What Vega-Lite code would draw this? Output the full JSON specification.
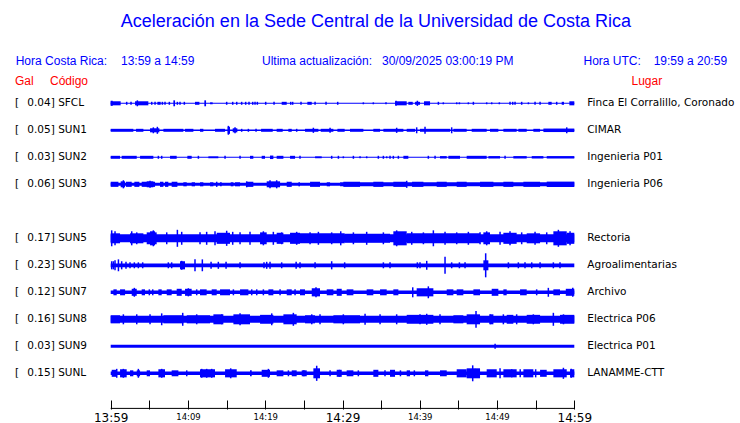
{
  "$schema": "https://vega.github.io/schema/vega-lite/v6.json",
  "width": 740,
  "height": 409,
  "padding": 0,
  "background": "white",
  "config": {"view": {"stroke": null}},
  "datasets": {
    "one": [{"k": 1}],
    "stations": [
      {"s":"SFCL","r":0,"lab":"0.04] SFCL","place":"Finca El Corralillo, Coronado"},
      {"s":"SUN1","r":1,"lab":"0.05] SUN1","place":"CIMAR"},
      {"s":"SUN2","r":2,"lab":"0.03] SUN2","place":"Ingenieria P01"},
      {"s":"SUN3","r":3,"lab":"0.06] SUN3","place":"Ingenieria P06"},
      {"s":"SUN5","r":5,"lab":"0.17] SUN5","place":"Rectoria"},
      {"s":"SUN6","r":6,"lab":"0.23] SUN6","place":"Agroalimentarias"},
      {"s":"SUN7","r":7,"lab":"0.12] SUN7","place":"Archivo"},
      {"s":"SUN8","r":8,"lab":"0.16] SUN8","place":"Electrica P06"},
      {"s":"SUN9","r":9,"lab":"0.03] SUN9","place":"Electrica P01"},
      {"s":"SUNL","r":10,"lab":"0.15] SUNL","place":"LANAMME-CTT"}
    ],
    "seg": [
      {"s":"SFCL","t":0,"u":60,"a":0.04},{"s":"SFCL","t":0,"u":1.29,"a":0.15},{"s":"SFCL","t":0,"u":0.26,"a":0.19},{"s":"SFCL","t":3.15,"u":4.87,"a":0.15},{"s":"SFCL","t":6.04,"u":6.47,"a":0.11},{"s":"SFCL","t":8.11,"u":8.33,"a":0.22},{"s":"SFCL","t":10.91,"u":11.48,"a":0.11},{"s":"SFCL","t":12.12,"u":12.34,"a":0.22},{"s":"SFCL","t":12.86,"u":13.2,"a":0.07},{"s":"SFCL","t":22.13,"u":22.78,"a":0.11},{"s":"SFCL","t":25.45,"u":26.02,"a":0.11},{"s":"SFCL","t":36.8,"u":38.31,"a":0.15},{"s":"SFCL","t":38.52,"u":39.09,"a":0.11},{"s":"SFCL","t":39.39,"u":40.03,"a":0.11},{"s":"SFCL","t":40.55,"u":41.33,"a":0.15},{"s":"SFCL","t":56.64,"u":57.07,"a":0.11},{"s":"SFCL","t":58.37,"u":58.67,"a":0.11},{"s":"SFCL","t":59.36,"u":60,"a":0.15},
      {"s":"SUN1","t":0,"u":60,"a":0.06},{"s":"SUN1","t":0,"u":2.93,"a":0.11},{"s":"SUN1","t":3.28,"u":4.23,"a":0.11},{"s":"SUN1","t":5.09,"u":6.3,"a":0.15},{"s":"SUN1","t":6.82,"u":9.4,"a":0.11},{"s":"SUN1","t":9.62,"u":10.7,"a":0.11},{"s":"SUN1","t":11.56,"u":11.99,"a":0.11},{"s":"SUN1","t":13.5,"u":14.8,"a":0.11},{"s":"SUN1","t":15.14,"u":15.44,"a":0.26},{"s":"SUN1","t":15.79,"u":16.39,"a":0.15},{"s":"SUN1","t":19.46,"u":20.97,"a":0.11},{"s":"SUN1","t":21.48,"u":22.26,"a":0.11},{"s":"SUN1","t":22.99,"u":23.43,"a":0.11},{"s":"SUN1","t":25.15,"u":26.88,"a":0.11},{"s":"SUN1","t":27.18,"u":28.82,"a":0.11},{"s":"SUN1","t":29.34,"u":30.28,"a":0.11},{"s":"SUN1","t":30.97,"u":32.7,"a":0.11},{"s":"SUN1","t":33.99,"u":34.86,"a":0.11},{"s":"SUN1","t":35.29,"u":37.88,"a":0.11},{"s":"SUN1","t":38.31,"u":39.39,"a":0.11},{"s":"SUN1","t":40.03,"u":43.92,"a":0.11},{"s":"SUN1","t":44.35,"u":46.07,"a":0.11},{"s":"SUN1","t":46.72,"u":48.66,"a":0.11},{"s":"SUN1","t":49.09,"u":50.17,"a":0.11},{"s":"SUN1","t":50.82,"u":52.54,"a":0.11},{"s":"SUN1","t":52.76,"u":53.84,"a":0.11},{"s":"SUN1","t":54.7,"u":55.57,"a":0.11},{"s":"SUN1","t":56.0,"u":60,"a":0.13},
      {"s":"SUN2","t":0,"u":60,"a":0.04},{"s":"SUN2","t":0,"u":1.21,"a":0.11},{"s":"SUN2","t":1.42,"u":3.37,"a":0.11},{"s":"SUN2","t":3.8,"u":5.52,"a":0.11},{"s":"SUN2","t":7.68,"u":8.54,"a":0.11},{"s":"SUN2","t":9.92,"u":10.48,"a":0.11},{"s":"SUN2","t":12.64,"u":13.93,"a":0.07},{"s":"SUN2","t":18.03,"u":18.46,"a":0.11},{"s":"SUN2","t":19.54,"u":19.97,"a":0.11},{"s":"SUN2","t":20.62,"u":21.05,"a":0.13},{"s":"SUN2","t":21.48,"u":22.35,"a":0.11},{"s":"SUN2","t":23.21,"u":23.86,"a":0.11},{"s":"SUN2","t":26.45,"u":27.31,"a":0.07},{"s":"SUN2","t":37.88,"u":38.52,"a":0.11},{"s":"SUN2","t":42.62,"u":43.49,"a":0.09},{"s":"SUN2","t":43.7,"u":45.21,"a":0.11},{"s":"SUN2","t":46.07,"u":48.66,"a":0.11},{"s":"SUN2","t":48.88,"u":50.39,"a":0.09},{"s":"SUN2","t":52.11,"u":53.84,"a":0.09},{"s":"SUN2","t":54.49,"u":56.0,"a":0.09},{"s":"SUN2","t":56.43,"u":60,"a":0.09},
      {"s":"SUN3","t":0,"u":29.68,"a":0.11},{"s":"SUN3","t":29.68,"u":60,"a":0.15},{"s":"SUN3","t":0,"u":1.0,"a":0.19},{"s":"SUN3","t":1.29,"u":1.86,"a":0.22},{"s":"SUN3","t":1.98,"u":2.72,"a":0.19},{"s":"SUN3","t":3.06,"u":3.71,"a":0.19},{"s":"SUN3","t":4.01,"u":5.74,"a":0.19},{"s":"SUN3","t":4.66,"u":5.52,"a":0.22},{"s":"SUN3","t":6.38,"u":6.82,"a":0.19},{"s":"SUN3","t":7.03,"u":7.46,"a":0.19},{"s":"SUN3","t":7.89,"u":8.63,"a":0.19},{"s":"SUN3","t":9.4,"u":9.84,"a":0.15},{"s":"SUN3","t":10.48,"u":10.91,"a":0.15},{"s":"SUN3","t":11.56,"u":11.99,"a":0.15},{"s":"SUN3","t":12.86,"u":13.29,"a":0.15},{"s":"SUN3","t":14.15,"u":14.37,"a":0.15},{"s":"SUN3","t":15.53,"u":15.88,"a":0.15},{"s":"SUN3","t":16.09,"u":16.74,"a":0.15},{"s":"SUN3","t":17.6,"u":18.46,"a":0.19},{"s":"SUN3","t":20.19,"u":21.92,"a":0.22},{"s":"SUN3","t":22.78,"u":23.43,"a":0.19},{"s":"SUN3","t":24.29,"u":24.5,"a":0.15},{"s":"SUN3","t":25.8,"u":27.09,"a":0.19},{"s":"SUN3","t":27.96,"u":28.39,"a":0.15},{"s":"SUN3","t":30.11,"u":32.27,"a":0.19},{"s":"SUN3","t":33.99,"u":35.29,"a":0.19},{"s":"SUN3","t":36.58,"u":38.31,"a":0.19},{"s":"SUN3","t":39.0,"u":40.47,"a":0.19},{"s":"SUN3","t":42.19,"u":43.49,"a":0.19},{"s":"SUN3","t":44.78,"u":46.07,"a":0.19},{"s":"SUN3","t":47.8,"u":49.53,"a":0.19},{"s":"SUN3","t":50.82,"u":52.11,"a":0.19},{"s":"SUN3","t":53.41,"u":55.57,"a":0.19},{"s":"SUN3","t":56.43,"u":60,"a":0.2},
      {"s":"SUN5","t":0,"u":60,"a":0.3},{"s":"SUN5","t":0,"u":1.21,"a":0.37},{"s":"SUN5","t":2.5,"u":4.23,"a":0.37},{"s":"SUN5","t":4.66,"u":5.95,"a":0.44},{"s":"SUN5","t":5.09,"u":5.74,"a":0.52},{"s":"SUN5","t":13.72,"u":15.44,"a":0.41},{"s":"SUN5","t":19.33,"u":20.19,"a":0.44},{"s":"SUN5","t":21.48,"u":22.35,"a":0.41},{"s":"SUN5","t":23.21,"u":24.5,"a":0.41},{"s":"SUN5","t":24.5,"u":30.28,"a":0.37},{"s":"SUN5","t":30.28,"u":36.15,"a":0.33},{"s":"SUN5","t":36.58,"u":38.31,"a":0.52},{"s":"SUN5","t":38.31,"u":47.8,"a":0.37},{"s":"SUN5","t":48.23,"u":49.09,"a":0.44},{"s":"SUN5","t":50.82,"u":52.54,"a":0.41},{"s":"SUN5","t":53.84,"u":55.57,"a":0.37},{"s":"SUN5","t":57.29,"u":59.02,"a":0.52},{"s":"SUN5","t":59.02,"u":60,"a":0.41},
      {"s":"SUN6","t":0,"u":60,"a":0.14},{"s":"SUN6","t":8.97,"u":9.62,"a":0.3},{"s":"SUN6","t":48.23,"u":48.88,"a":0.37},
      {"s":"SUN7","t":0,"u":60,"a":0.13},{"s":"SUN7","t":0.35,"u":0.78,"a":0.22},{"s":"SUN7","t":1.21,"u":1.86,"a":0.22},{"s":"SUN7","t":2.72,"u":3.37,"a":0.26},{"s":"SUN7","t":4.01,"u":4.44,"a":0.22},{"s":"SUN7","t":6.17,"u":6.6,"a":0.22},{"s":"SUN7","t":7.25,"u":7.89,"a":0.22},{"s":"SUN7","t":8.54,"u":9.19,"a":0.26},{"s":"SUN7","t":9.62,"u":10.48,"a":0.26},{"s":"SUN7","t":11.56,"u":12.42,"a":0.22},{"s":"SUN7","t":13.07,"u":13.72,"a":0.22},{"s":"SUN7","t":14.15,"u":15.44,"a":0.22},{"s":"SUN7","t":16.74,"u":17.82,"a":0.22},{"s":"SUN7","t":20.41,"u":21.05,"a":0.22},{"s":"SUN7","t":22.78,"u":23.43,"a":0.22},{"s":"SUN7","t":24.5,"u":25.15,"a":0.22},{"s":"SUN7","t":26.02,"u":27.09,"a":0.3},{"s":"SUN7","t":27.96,"u":28.82,"a":0.22},{"s":"SUN7","t":29.25,"u":29.9,"a":0.26},{"s":"SUN7","t":30.54,"u":31.41,"a":0.22},{"s":"SUN7","t":33.13,"u":33.99,"a":0.22},{"s":"SUN7","t":34.86,"u":35.72,"a":0.22},{"s":"SUN7","t":36.58,"u":37.23,"a":0.22},{"s":"SUN7","t":39.6,"u":41.76,"a":0.3},{"s":"SUN7","t":43.49,"u":44.35,"a":0.22},{"s":"SUN7","t":44.78,"u":45.64,"a":0.22},{"s":"SUN7","t":46.94,"u":47.8,"a":0.22},{"s":"SUN7","t":49.31,"u":50.17,"a":0.26},{"s":"SUN7","t":50.82,"u":51.25,"a":0.22},{"s":"SUN7","t":52.98,"u":53.84,"a":0.22},{"s":"SUN7","t":57.29,"u":58.15,"a":0.22},{"s":"SUN7","t":58.9,"u":60,"a":0.26},
      {"s":"SUN8","t":0,"u":60,"a":0.26},{"s":"SUN8","t":0,"u":1.21,"a":0.3},{"s":"SUN8","t":6.82,"u":9.4,"a":0.3},{"s":"SUN8","t":9.84,"u":12.86,"a":0.3},{"s":"SUN8","t":13.29,"u":14.58,"a":0.37},{"s":"SUN8","t":15.88,"u":18.03,"a":0.37},{"s":"SUN8","t":19.33,"u":21.05,"a":0.33},{"s":"SUN8","t":22.35,"u":24.07,"a":0.37},{"s":"SUN8","t":25.15,"u":26.45,"a":0.3},{"s":"SUN8","t":28.82,"u":32.27,"a":0.3},{"s":"SUN8","t":38.31,"u":41.76,"a":0.33},{"s":"SUN8","t":44.35,"u":45.64,"a":0.3},{"s":"SUN8","t":46.07,"u":47.8,"a":0.37},{"s":"SUN8","t":49.09,"u":49.53,"a":0.37},{"s":"SUN8","t":51.25,"u":52.11,"a":0.33},{"s":"SUN8","t":53.84,"u":55.57,"a":0.33},{"s":"SUN8","t":58.15,"u":60,"a":0.33},
      {"s":"SUN9","t":0,"u":60,"a":0.11},
      {"s":"SUNL","t":0,"u":60,"a":0.13},{"s":"SUNL","t":0.13,"u":0.78,"a":0.26},{"s":"SUNL","t":1.21,"u":2.07,"a":0.3},{"s":"SUNL","t":2.5,"u":2.93,"a":0.22},{"s":"SUNL","t":3.37,"u":3.8,"a":0.22},{"s":"SUNL","t":4.66,"u":5.09,"a":0.22},{"s":"SUNL","t":6.17,"u":7.03,"a":0.3},{"s":"SUNL","t":7.89,"u":8.76,"a":0.22},{"s":"SUNL","t":11.56,"u":13.5,"a":0.3},{"s":"SUNL","t":14.8,"u":16.31,"a":0.3},{"s":"SUNL","t":18.03,"u":18.25,"a":0.22},{"s":"SUNL","t":19.54,"u":20.62,"a":0.26},{"s":"SUNL","t":21.48,"u":22.35,"a":0.22},{"s":"SUNL","t":23.43,"u":24.07,"a":0.22},{"s":"SUNL","t":24.72,"u":25.37,"a":0.22},{"s":"SUNL","t":26.23,"u":27.09,"a":0.37},{"s":"SUNL","t":29.25,"u":29.9,"a":0.26},{"s":"SUNL","t":30.54,"u":31.41,"a":0.22},{"s":"SUNL","t":33.99,"u":34.64,"a":0.26},{"s":"SUNL","t":36.15,"u":36.8,"a":0.26},{"s":"SUNL","t":38.31,"u":38.74,"a":0.22},{"s":"SUNL","t":40.68,"u":41.11,"a":0.22},{"s":"SUNL","t":42.62,"u":43.49,"a":0.22},{"s":"SUNL","t":44.78,"u":46.07,"a":0.3},{"s":"SUNL","t":46.07,"u":47.8,"a":0.37},{"s":"SUNL","t":48.66,"u":49.96,"a":0.3},{"s":"SUNL","t":50.82,"u":52.54,"a":0.3},{"s":"SUNL","t":53.41,"u":54.7,"a":0.3},{"s":"SUNL","t":55.57,"u":56.43,"a":0.26},{"s":"SUNL","t":57.29,"u":59.02,"a":0.3},{"s":"SUNL","t":59.45,"u":60,"a":0.3}
    ],
    "spk": [
      {"s":"SFCL","t":2.07,"a":0.11},{"s":"SFCL","t":2.63,"a":0.11},{"s":"SFCL","t":3.45,"a":0.22},{"s":"SFCL","t":5.31,"a":0.11},{"s":"SFCL","t":5.74,"a":0.11},{"s":"SFCL","t":6.69,"a":0.11},{"s":"SFCL","t":7.03,"a":0.11},{"s":"SFCL","t":7.59,"a":0.11},{"s":"SFCL","t":8.63,"a":0.11},{"s":"SFCL","t":8.97,"a":0.11},{"s":"SFCL","t":9.53,"a":0.11},{"s":"SFCL","t":15.01,"a":0.11},{"s":"SFCL","t":15.79,"a":0.11},{"s":"SFCL","t":16.31,"a":0.11},{"s":"SFCL","t":16.95,"a":0.11},{"s":"SFCL","t":17.47,"a":0.11},{"s":"SFCL","t":17.9,"a":0.11},{"s":"SFCL","t":18.38,"a":0.11},{"s":"SFCL","t":18.68,"a":0.11},{"s":"SFCL","t":18.98,"a":0.11},{"s":"SFCL","t":20.06,"a":0.11},{"s":"SFCL","t":21.14,"a":0.11},{"s":"SFCL","t":23.3,"a":0.11},{"s":"SFCL","t":23.55,"a":0.11},{"s":"SFCL","t":24.63,"a":0.11},{"s":"SFCL","t":26.45,"a":0.11},{"s":"SFCL","t":27.87,"a":0.11},{"s":"SFCL","t":29.38,"a":0.11},{"s":"SFCL","t":32.7,"a":0.07},{"s":"SFCL","t":33.99,"a":0.07},{"s":"SFCL","t":35.63,"a":0.07},{"s":"SFCL","t":36.93,"a":0.19},{"s":"SFCL","t":39.69,"a":0.19},{"s":"SFCL","t":42.41,"a":0.11},{"s":"SFCL","t":43.05,"a":0.07},{"s":"SFCL","t":44.78,"a":0.07},{"s":"SFCL","t":45.13,"a":0.07},{"s":"SFCL","t":46.29,"a":0.07},{"s":"SFCL","t":46.94,"a":0.11},{"s":"SFCL","t":48.66,"a":0.07},{"s":"SFCL","t":49.31,"a":0.07},{"s":"SFCL","t":50.3,"a":0.07},{"s":"SFCL","t":51.68,"a":0.11},{"s":"SFCL","t":52.03,"a":0.11},{"s":"SFCL","t":52.33,"a":0.11},{"s":"SFCL","t":53.19,"a":0.11},{"s":"SFCL","t":54.06,"a":0.07},{"s":"SFCL","t":54.92,"a":0.11},{"s":"SFCL","t":55.57,"a":0.11},{"s":"SFCL","t":57.72,"a":0.11},
      {"s":"SUN1","t":5.52,"a":0.22},{"s":"SUN1","t":6.04,"a":0.26},{"s":"SUN1","t":15.23,"a":0.33},{"s":"SUN1","t":16.09,"a":0.22},{"s":"SUN1","t":16.95,"a":0.11},{"s":"SUN1","t":17.82,"a":0.11},{"s":"SUN1","t":18.81,"a":0.11},{"s":"SUN1","t":24.07,"a":0.11},{"s":"SUN1","t":26.23,"a":0.19},{"s":"SUN1","t":28.39,"a":0.19},{"s":"SUN1","t":37.01,"a":0.19},{"s":"SUN1","t":39.6,"a":0.22},{"s":"SUN1","t":40.68,"a":0.26},{"s":"SUN1","t":44.13,"a":0.22},{"s":"SUN1","t":59.02,"a":0.22},
      {"s":"SUN2","t":6.17,"a":0.11},{"s":"SUN2","t":6.6,"a":0.11},{"s":"SUN2","t":11.35,"a":0.11},{"s":"SUN2","t":14.8,"a":0.11},{"s":"SUN2","t":16.74,"a":0.11},{"s":"SUN2","t":24.5,"a":0.11},{"s":"SUN2","t":28.6,"a":0.11},{"s":"SUN2","t":29.47,"a":0.11},{"s":"SUN2","t":30.11,"a":0.07},{"s":"SUN2","t":31.41,"a":0.11},{"s":"SUN2","t":32.27,"a":0.07},{"s":"SUN2","t":33.13,"a":0.07},{"s":"SUN2","t":34.64,"a":0.11},{"s":"SUN2","t":35.29,"a":0.11},{"s":"SUN2","t":35.72,"a":0.07},{"s":"SUN2","t":36.15,"a":0.11},{"s":"SUN2","t":36.58,"a":0.11},{"s":"SUN2","t":37.23,"a":0.11},{"s":"SUN2","t":41.11,"a":0.11},{"s":"SUN2","t":41.98,"a":0.11},{"s":"SUN2","t":51.04,"a":0.11},
      {"s":"SUN3","t":1.64,"a":0.3},{"s":"SUN3","t":5.09,"a":0.26},{"s":"SUN3","t":13.72,"a":0.19},{"s":"SUN3","t":17.6,"a":0.22},{"s":"SUN3","t":20.62,"a":0.3},{"s":"SUN3","t":21.48,"a":0.3},{"s":"SUN3","t":38.31,"a":0.26},
      {"s":"SUN5","t":0.13,"a":0.59},{"s":"SUN5","t":0.56,"a":0.52},{"s":"SUN5","t":2.72,"a":0.52},{"s":"SUN5","t":3.37,"a":0.44},{"s":"SUN5","t":5.52,"a":0.59},{"s":"SUN5","t":7.25,"a":0.44},{"s":"SUN5","t":8.63,"a":0.63},{"s":"SUN5","t":9.19,"a":0.48},{"s":"SUN5","t":11.56,"a":0.44},{"s":"SUN5","t":12.42,"a":0.48},{"s":"SUN5","t":13.5,"a":0.52},{"s":"SUN5","t":15.01,"a":0.56},{"s":"SUN5","t":15.79,"a":0.48},{"s":"SUN5","t":16.74,"a":0.44},{"s":"SUN5","t":18.03,"a":0.48},{"s":"SUN5","t":19.76,"a":0.52},{"s":"SUN5","t":21.05,"a":0.48},{"s":"SUN5","t":22.13,"a":0.44},{"s":"SUN5","t":24.07,"a":0.48},{"s":"SUN5","t":25.8,"a":0.44},{"s":"SUN5","t":26.88,"a":0.48},{"s":"SUN5","t":28.6,"a":0.44},{"s":"SUN5","t":29.77,"a":0.52},{"s":"SUN5","t":31.41,"a":0.44},{"s":"SUN5","t":33.13,"a":0.48},{"s":"SUN5","t":35.29,"a":0.44},{"s":"SUN5","t":37.01,"a":0.59},{"s":"SUN5","t":38.96,"a":0.48},{"s":"SUN5","t":40.47,"a":0.44},{"s":"SUN5","t":41.76,"a":0.59},{"s":"SUN5","t":43.27,"a":0.48},{"s":"SUN5","t":44.78,"a":0.44},{"s":"SUN5","t":46.29,"a":0.48},{"s":"SUN5","t":47.8,"a":0.44},{"s":"SUN5","t":48.66,"a":0.52},{"s":"SUN5","t":50.39,"a":0.48},{"s":"SUN5","t":51.68,"a":0.52},{"s":"SUN5","t":53.19,"a":0.44},{"s":"SUN5","t":54.92,"a":0.48},{"s":"SUN5","t":56.43,"a":0.44},{"s":"SUN5","t":57.94,"a":0.63},{"s":"SUN5","t":59.45,"a":0.52},
      {"s":"SUN6","t":0.13,"a":0.3},{"s":"SUN6","t":0.35,"a":0.3},{"s":"SUN6","t":0.56,"a":0.37},{"s":"SUN6","t":1.0,"a":0.44},{"s":"SUN6","t":1.42,"a":0.3},{"s":"SUN6","t":1.98,"a":0.26},{"s":"SUN6","t":2.5,"a":0.22},{"s":"SUN6","t":3.06,"a":0.22},{"s":"SUN6","t":3.58,"a":0.22},{"s":"SUN6","t":4.14,"a":0.22},{"s":"SUN6","t":7.46,"a":0.22},{"s":"SUN6","t":7.89,"a":0.22},{"s":"SUN6","t":9.19,"a":0.33},{"s":"SUN6","t":10.91,"a":0.44},{"s":"SUN6","t":11.86,"a":0.44},{"s":"SUN6","t":12.99,"a":0.26},{"s":"SUN6","t":13.93,"a":0.26},{"s":"SUN6","t":14.93,"a":0.26},{"s":"SUN6","t":16.74,"a":0.22},{"s":"SUN6","t":19.84,"a":0.22},{"s":"SUN6","t":20.19,"a":0.26},{"s":"SUN6","t":20.62,"a":0.26},{"s":"SUN6","t":22.13,"a":0.22},{"s":"SUN6","t":24.0,"a":0.26},{"s":"SUN6","t":24.5,"a":0.22},{"s":"SUN6","t":26.45,"a":0.22},{"s":"SUN6","t":28.6,"a":0.3},{"s":"SUN6","t":30.28,"a":0.22},{"s":"SUN6","t":35.29,"a":0.22},{"s":"SUN6","t":36.15,"a":0.22},{"s":"SUN6","t":39.69,"a":0.22},{"s":"SUN6","t":40.03,"a":0.22},{"s":"SUN6","t":40.9,"a":0.33},{"s":"SUN6","t":43.27,"a":0.63},{"s":"SUN6","t":44.13,"a":0.22},{"s":"SUN6","t":45.13,"a":0.22},{"s":"SUN6","t":45.86,"a":0.22},{"s":"SUN6","t":48.53,"a":0.89},{"s":"SUN6","t":51.47,"a":0.22},{"s":"SUN6","t":52.76,"a":0.22},{"s":"SUN6","t":53.62,"a":0.22},{"s":"SUN6","t":54.49,"a":0.22},{"s":"SUN6","t":55.57,"a":0.22},{"s":"SUN6","t":57.29,"a":0.22},{"s":"SUN6","t":58.15,"a":0.22},
      {"s":"SUN7","t":3.06,"a":0.33},{"s":"SUN7","t":5.0,"a":0.22},{"s":"SUN7","t":5.44,"a":0.22},{"s":"SUN7","t":10.05,"a":0.3},{"s":"SUN7","t":11.13,"a":0.22},{"s":"SUN7","t":15.88,"a":0.22},{"s":"SUN7","t":18.25,"a":0.22},{"s":"SUN7","t":18.9,"a":0.22},{"s":"SUN7","t":19.76,"a":0.22},{"s":"SUN7","t":21.92,"a":0.22},{"s":"SUN7","t":23.86,"a":0.22},{"s":"SUN7","t":26.57,"a":0.37},{"s":"SUN7","t":39.09,"a":0.37},{"s":"SUN7","t":41.11,"a":0.44},{"s":"SUN7","t":55.13,"a":0.22},{"s":"SUN7","t":56.64,"a":0.33},{"s":"SUN7","t":59.8,"a":0.33},
      {"s":"SUN8","t":1.64,"a":0.37},{"s":"SUN8","t":3.37,"a":0.37},{"s":"SUN8","t":5.09,"a":0.37},{"s":"SUN8","t":6.6,"a":0.44},{"s":"SUN8","t":9.32,"a":0.48},{"s":"SUN8","t":11.13,"a":0.37},{"s":"SUN8","t":14.37,"a":0.37},{"s":"SUN8","t":16.74,"a":0.44},{"s":"SUN8","t":20.84,"a":0.44},{"s":"SUN8","t":23.64,"a":0.48},{"s":"SUN8","t":26.02,"a":0.37},{"s":"SUN8","t":27.09,"a":0.37},{"s":"SUN8","t":30.11,"a":0.37},{"s":"SUN8","t":32.92,"a":0.41},{"s":"SUN8","t":34.86,"a":0.37},{"s":"SUN8","t":37.01,"a":0.37},{"s":"SUN8","t":40.03,"a":0.37},{"s":"SUN8","t":40.9,"a":0.41},{"s":"SUN8","t":42.62,"a":0.37},{"s":"SUN8","t":47.28,"a":0.62},{"s":"SUN8","t":49.09,"a":0.37},{"s":"SUN8","t":50.82,"a":0.37},{"s":"SUN8","t":52.54,"a":0.37},{"s":"SUN8","t":54.7,"a":0.37},{"s":"SUN8","t":57.29,"a":0.48},{"s":"SUN8","t":58.6,"a":0.37},
      {"s":"SUN9","t":49.75,"a":0.19},
      {"s":"SUNL","t":0.78,"a":0.33},{"s":"SUNL","t":1.64,"a":0.33},{"s":"SUNL","t":3.58,"a":0.33},{"s":"SUNL","t":6.6,"a":0.33},{"s":"SUNL","t":9.84,"a":0.22},{"s":"SUNL","t":11.78,"a":0.33},{"s":"SUNL","t":12.42,"a":0.33},{"s":"SUNL","t":13.07,"a":0.33},{"s":"SUNL","t":15.53,"a":0.37},{"s":"SUNL","t":20.41,"a":0.33},{"s":"SUNL","t":23.0,"a":0.22},{"s":"SUNL","t":25.0,"a":0.22},{"s":"SUNL","t":26.66,"a":0.56},{"s":"SUNL","t":28.39,"a":0.22},{"s":"SUNL","t":29.6,"a":0.26},{"s":"SUNL","t":32.05,"a":0.22},{"s":"SUNL","t":35.5,"a":0.22},{"s":"SUNL","t":37.5,"a":0.22},{"s":"SUNL","t":39.3,"a":0.22},{"s":"SUNL","t":46.85,"a":0.59},{"s":"SUNL","t":47.2,"a":0.33},{"s":"SUNL","t":50.39,"a":0.37},{"s":"SUNL","t":51.9,"a":0.3},{"s":"SUNL","t":53.0,"a":0.3},{"s":"SUNL","t":55.0,"a":0.3},{"s":"SUNL","t":58.59,"a":0.41},{"s":"SUNL","t":59.6,"a":0.33}
    ]
  },
  "layer": [
    {
      "data": {"name": "seg"},
      "transform": [{"lookup": "s", "from": {"data": {"name": "stations"}, "key": "s", "fields": ["r"]}}],
      "mark": {"type": "rule", "color": "#0000ff"},
      "encoding": {
        "x": {"field": "t", "type": "quantitative",
              "scale": {"domain": [-14.327, 81.445], "nice": false, "zero": false},
              "axis": {"values": [0,5,10,15,20,25,30,35,40,45,50,55,60], "domain": false, "grid": false,
                       "tickSize": -9, "tickColor": "black", "tickWidth": 1, "title": null,
                       "labelExpr": "datum.value === 0 ? '13:59' : datum.value % 10 === 0 ? '14:' + (datum.value < 11 ? '0' : '') + (datum.value - 1) : ''",
                       "labelFont": "DejaVu Sans", "labelColor": "black",
                       "labelFontSize": {"condition": {"test": "datum.value % 30 === 0", "value": 12}, "value": 8.5},
                       "labelPadding": 12, "labelOverlap": false, "labelFlush": false, "labelBound": false}},
        "x2": {"field": "u"},
        "y": {"field": "r", "type": "quantitative", "scale": {"domain": [-3.826, 11.322], "reverse": true, "nice": false, "zero": false}, "axis": null},
        "strokeWidth": {"field": "a", "type": "quantitative", "scale": {"domain": [0, 1], "range": [0, 27]}, "legend": null}
      }
    },
    {
      "data": {"name": "spk"},
      "transform": [{"lookup": "s", "from": {"data": {"name": "stations"}, "key": "s", "fields": ["r"]}}],
      "mark": {"type": "point", "shape": "M0,-1V1", "filled": false, "stroke": "#0000ff", "strokeWidth": 1.5, "opacity": 1},
      "encoding": {
        "x": {"field": "t", "type": "quantitative"},
        "y": {"field": "r", "type": "quantitative", "axis": null},
        "size": {"field": "a", "type": "quantitative", "scale": {"type": "pow", "exponent": 2, "domain": [0, 1], "range": [0, 729]}, "legend": null}
      }
    },
    {
      "data": {"name": "one"},
      "mark": {"type": "rule", "color": "black", "strokeWidth": 1},
      "encoding": {
        "x": {"datum": 0, "type": "quantitative"},
        "x2": {"datum": 60},
        "y": {"datum": 11.3, "type": "quantitative", "axis": null}
      }
    },
    {
      "data": {"name": "stations"},
      "mark": {"type": "text", "text": "[", "align": "left", "baseline": "middle", "font": "DejaVu Sans", "fontSize": 10.5, "color": "black"},
      "encoding": {
        "x": {"datum": -12.385, "type": "quantitative"},
        "y": {"field": "r", "type": "quantitative", "axis": null}
      }
    },
    {
      "data": {"name": "stations"},
      "mark": {"type": "text", "align": "left", "baseline": "middle", "font": "DejaVu Sans", "fontSize": 10.5, "color": "black"},
      "encoding": {
        "x": {"datum": -10.79, "type": "quantitative"},
        "y": {"field": "r", "type": "quantitative", "axis": null},
        "text": {"field": "lab"}
      }
    },
    {
      "data": {"name": "stations"},
      "mark": {"type": "text", "align": "left", "baseline": "middle", "font": "DejaVu Sans", "fontSize": 10.5, "color": "black"},
      "encoding": {
        "x": {"datum": 61.68, "type": "quantitative"},
        "y": {"field": "r", "type": "quantitative", "axis": null},
        "text": {"field": "place"}
      }
    },
    {
      "data": {"name": "one"},
      "mark": {"type": "text", "text": "Aceleración en la Sede Central de la Universidad de Costa Rica", "align": "center", "baseline": "middle", "font": "Liberation Sans", "fontSize": 18, "color": "#0000ff"},
      "encoding": {"x": {"datum": 34.33, "type": "quantitative"}, "y": {"datum": -3.011, "type": "quantitative", "axis": null}}
    },
    {
      "data": {"name": "one"},
      "mark": {"type": "text", "text": "Hora Costa Rica:", "align": "left", "baseline": "middle", "font": "Liberation Sans", "fontSize": 12, "color": "#0000ff"},
      "encoding": {"x": {"datum": -12.295, "type": "quantitative"}, "y": {"datum": -1.578, "type": "quantitative", "axis": null}}
    },
    {
      "data": {"name": "one"},
      "mark": {"type": "text", "text": "13:59 a 14:59", "align": "left", "baseline": "middle", "font": "Liberation Sans", "fontSize": 12, "color": "#0000ff"},
      "encoding": {"x": {"datum": 1.333, "type": "quantitative"}, "y": {"datum": -1.578, "type": "quantitative", "axis": null}}
    },
    {
      "data": {"name": "one"},
      "mark": {"type": "text", "text": "Ultima actualización:", "align": "left", "baseline": "middle", "font": "Liberation Sans", "fontSize": 12, "color": "#0000ff"},
      "encoding": {"x": {"datum": 19.58, "type": "quantitative"}, "y": {"datum": -1.578, "type": "quantitative", "axis": null}}
    },
    {
      "data": {"name": "one"},
      "mark": {"type": "text", "text": "30/09/2025 03:00:19 PM", "align": "left", "baseline": "middle", "font": "Liberation Sans", "fontSize": 12, "color": "#0000ff"},
      "encoding": {"x": {"datum": 35.11, "type": "quantitative"}, "y": {"datum": -1.578, "type": "quantitative", "axis": null}}
    },
    {
      "data": {"name": "one"},
      "mark": {"type": "text", "text": "Hora UTC:", "align": "left", "baseline": "middle", "font": "Liberation Sans", "fontSize": 12, "color": "#0000ff"},
      "encoding": {"x": {"datum": 61.19, "type": "quantitative"}, "y": {"datum": -1.578, "type": "quantitative", "axis": null}}
    },
    {
      "data": {"name": "one"},
      "mark": {"type": "text", "text": "19:59 a 20:59", "align": "left", "baseline": "middle", "font": "Liberation Sans", "fontSize": 12, "color": "#0000ff"},
      "encoding": {"x": {"datum": 70.27, "type": "quantitative"}, "y": {"datum": -1.578, "type": "quantitative", "axis": null}}
    },
    {
      "data": {"name": "one"},
      "mark": {"type": "text", "text": "Gal", "align": "left", "baseline": "middle", "font": "Liberation Sans", "fontSize": 12, "color": "#ff0000"},
      "encoding": {"x": {"datum": -12.385, "type": "quantitative"}, "y": {"datum": -0.826, "type": "quantitative", "axis": null}}
    },
    {
      "data": {"name": "one"},
      "mark": {"type": "text", "text": "Código", "align": "left", "baseline": "middle", "font": "Liberation Sans", "fontSize": 12, "color": "#ff0000"},
      "encoding": {"x": {"datum": -7.856, "type": "quantitative"}, "y": {"datum": -0.826, "type": "quantitative", "axis": null}}
    },
    {
      "data": {"name": "one"},
      "mark": {"type": "text", "text": "Lugar", "align": "left", "baseline": "middle", "font": "Liberation Sans", "fontSize": 12, "color": "#ff0000"},
      "encoding": {"x": {"datum": 67.4, "type": "quantitative"}, "y": {"datum": -0.826, "type": "quantitative", "axis": null}}
    }
  ]
}
